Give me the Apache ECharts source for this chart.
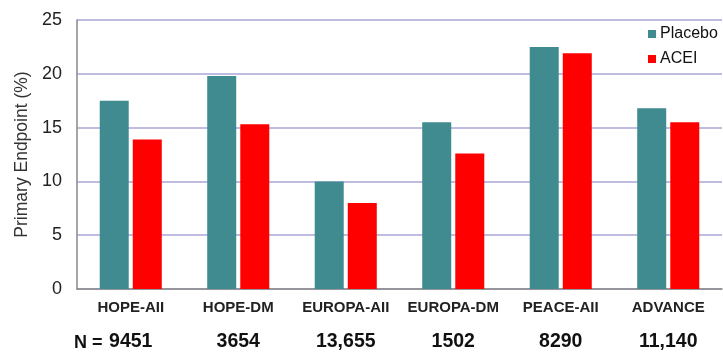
<!DOCTYPE html>
<html>
<head>
<meta charset="utf-8">
<script src="https://cdn.jsdelivr.net/npm/echarts@6/dist/echarts.min.js"></script>
<style>
  html, body { margin: 0; padding: 0; background: #fff; }
  #chart { width: 723px; height: 352px; }
</style>
</head>
<body>
<div id="chart"></div>
<script>
// Trials and their primary endpoint rates (%)
const trials = ['HOPE-AII', 'HOPE-DM', 'EUROPA-AII', 'EUROPA-DM', 'PEACE-AII', 'ADVANCE'];
const sampleSizes = ['9451', '3654', '13,655', '1502', '8290', '11,140'];
const placebo = [17.5, 19.8, 10.0, 15.5, 22.5, 16.8];
const acei = [13.9, 15.3, 8.0, 12.6, 21.9, 15.5];
const yTicks = { min: 0, max: 25, interval: 5 };

const chart = echarts.init(document.getElementById('chart'), null, { renderer: 'canvas' });
const font = 'Liberation Sans, Arial, sans-serif';

chart.setOption({
  animation: false,
  textStyle: { fontFamily: font },
  grid: { left: 77, right: 1, top: 20, bottom: 62 },
  legend: {
    orient: 'vertical',
    left: 648, top: 26, padding: 0,
    icon: 'rect', itemWidth: 8, itemHeight: 8, itemGap: 9,
    textStyle: { fontSize: 16, color: '#111', fontFamily: font, padding: [0, 0, 0, -1] },
    data: ['Placebo', 'ACEI']
  },
  xAxis: [
    {
      type: 'category', data: trials, position: 'bottom',
      axisLine: { lineStyle: { color: '#888', width: 1.5 } },
      axisTick: { inside: true, length: 5, lineStyle: { color: '#888' } },
      axisLabel: { fontSize: 15, fontWeight: 'bold', color: '#222', margin: 11, interval: 0 }
    },
    {
      type: 'category', data: sampleSizes, position: 'bottom', offset: 33,
      axisLine: { show: false }, axisTick: { show: false },
      axisLabel: { fontSize: 19.5, fontWeight: 'bold', color: '#111', margin: 10, interval: 0 }
    }
  ],
  yAxis: {
    type: 'value', min: yTicks.min, max: yTicks.max, interval: yTicks.interval,
    name: 'Primary Endpoint (%)', nameLocation: 'middle', nameGap: 46,
    nameTextStyle: { fontSize: 17.5, color: '#333' },
    axisLine: { show: true, lineStyle: { color: '#888', width: 1.5 } },
    axisTick: { show: false },
    axisLabel: { fontSize: 18, color: '#222', margin: 15 },
    splitLine: { lineStyle: { color: '#a9a6d6', width: 1.5 } }
  },
  graphic: [
    { type: 'text', left: 74, top: 334,
      style: { text: 'N =', font: 'bold 18px ' + font, fill: '#111' } }
  ],
  series: [
    { name: 'Placebo', type: 'bar', data: placebo, barWidth: 29, barGap: '14%',
      itemStyle: { color: '#3f8b8f' } },
    { name: 'ACEI', type: 'bar', data: acei, barWidth: 29,
      itemStyle: { color: '#ff0000' } }
  ]
});
</script>
</body>
</html>
